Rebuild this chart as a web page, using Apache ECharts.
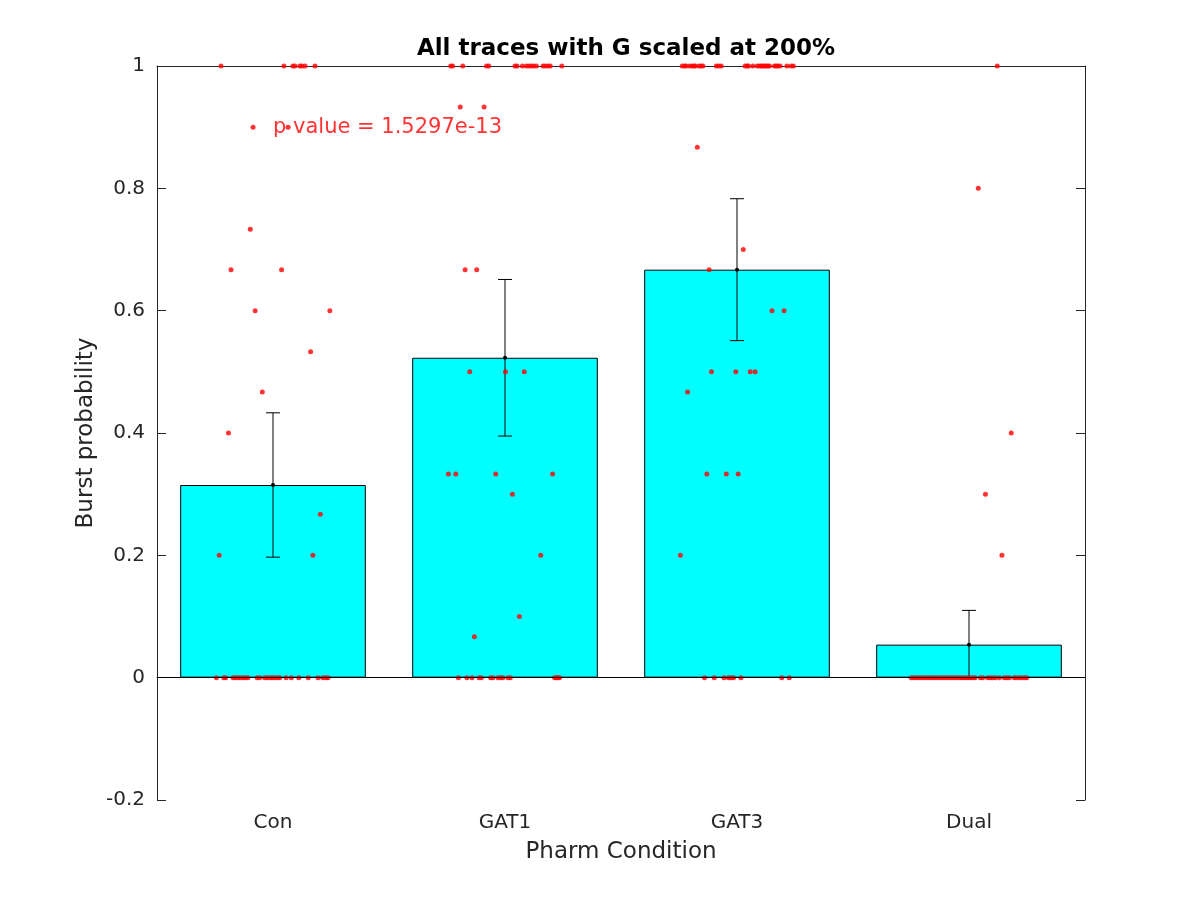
<!DOCTYPE html>
<html>
<head>
<meta charset="utf-8">
<script src="https://cdn.jsdelivr.net/npm/echarts@6/dist/echarts.min.js"></script>
<style>
  html, body { margin: 0; padding: 0; background: #fff; }
  #chart { width: 1200px; height: 900px; }
</style>
</head>
<body>
<div id="chart"></div>
<script>
const categories = ['Con', 'GAT1', 'GAT3', 'Dual'];
const barMeans = [0.315, 0.523, 0.667, 0.054];
const barErrors = [0.118, 0.128, 0.116, 0.056];
const pValueText = 'p value = 1.5297e-13';

// individual traces: [jitter offset from category centre, burst probability]
const conPoints = [
  [-0.224, 1], [0.047, 1], [0.086, 1], [0.095, 1], [0.116, 1], [0.125, 1], [0.138, 1], [0.181, 1],
  [-0.086, 0.9], [0.065, 0.9],
  [-0.098, 0.733], [-0.181, 0.667], [0.037, 0.667], [-0.077, 0.6], [0.245, 0.6],
  [0.162, 0.533], [-0.046, 0.467], [-0.192, 0.4], [0.204, 0.267], [-0.232, 0.2], [0.172, 0.2],
  [-0.244, 0], [-0.212, 0], [-0.204, 0], [-0.172, 0], [-0.162, 0], [-0.151, 0], [-0.141, 0],
  [-0.129, 0], [-0.119, 0], [-0.108, 0], [-0.068, 0], [-0.057, 0], [-0.036, 0], [-0.025, 0],
  [-0.014, 0], [-0.003, 0], [0.007, 0], [0.019, 0], [0.029, 0], [0.057, 0], [0.079, 0],
  [0.111, 0], [0.152, 0], [0.194, 0], [0.215, 0], [0.227, 0], [0.237, 0]
];
const gat1Points = [
  [-0.234, 1], [-0.226, 1], [-0.182, 1], [-0.080, 1], [-0.070, 1], [0.043, 1], [0.052, 1], [0.075, 1],
  [0.092, 1], [0.103, 1], [0.114, 1], [0.123, 1], [0.135, 1], [0.164, 1], [0.174, 1], [0.185, 1],
  [0.195, 1], [0.245, 1],
  [-0.193, 0.933], [-0.090, 0.933],
  [-0.172, 0.667], [-0.122, 0.667], [-0.152, 0.5], [0.002, 0.5], [0.083, 0.5],
  [-0.244, 0.333], [-0.212, 0.333], [-0.040, 0.333], [0.205, 0.333], [0.032, 0.3],
  [0.154, 0.2], [0.062, 0.1], [-0.132, 0.0667],
  [-0.201, 0], [-0.164, 0], [-0.142, 0], [-0.112, 0], [-0.102, 0], [-0.062, 0], [-0.052, 0],
  [-0.030, 0], [-0.019, 0], [-0.009, 0], [0.013, 0], [0.023, 0], [0.214, 0], [0.221, 0],
  [0.228, 0], [0.235, 0]
];
const gat3Points = [
  [-0.236, 1], [-0.226, 1], [-0.219, 1], [-0.204, 1], [-0.194, 1], [-0.185, 1], [-0.180, 1],
  [-0.164, 1], [-0.154, 1], [-0.147, 1], [-0.089, 1], [-0.079, 1], [-0.068, 1], [0.035, 1],
  [0.044, 1], [0.049, 1], [0.068, 1], [0.087, 1], [0.097, 1], [0.104, 1], [0.111, 1], [0.118, 1],
  [0.126, 1], [0.133, 1], [0.140, 1], [0.161, 1], [0.169, 1], [0.176, 1], [0.186, 1], [0.215, 1],
  [0.233, 1], [0.243, 1],
  [-0.171, 0.867], [0.027, 0.7], [-0.120, 0.667], [0.151, 0.6], [0.203, 0.6],
  [-0.110, 0.5], [-0.005, 0.5], [0.057, 0.5], [0.078, 0.5], [-0.213, 0.467],
  [-0.130, 0.333], [-0.046, 0.333], [0.005, 0.333], [-0.244, 0.2],
  [-0.140, 0], [-0.098, 0], [-0.056, 0], [-0.037, 0], [-0.026, 0], [-0.015, 0], [0.017, 0],
  [0.193, 0], [0.225, 0]
];
const dualPoints = [
  [0.122, 1], [0.040, 0.8], [0.182, 0.4], [0.071, 0.3], [0.142, 0.2],
  [-0.249, 0], [-0.238, 0], [-0.227, 0], [-0.216, 0], [-0.205, 0], [-0.194, 0], [-0.183, 0],
  [-0.172, 0], [-0.161, 0], [-0.150, 0], [-0.139, 0], [-0.128, 0], [-0.117, 0], [-0.106, 0],
  [-0.095, 0], [-0.084, 0], [-0.073, 0], [-0.062, 0], [-0.051, 0], [-0.040, 0], [-0.029, 0],
  [-0.018, 0], [-0.007, 0], [0.004, 0], [0.015, 0], [0.026, 0], [0.049, 0], [0.059, 0],
  [0.080, 0], [0.092, 0], [0.102, 0], [0.114, 0], [0.131, 0], [0.152, 0], [0.162, 0],
  [0.174, 0], [0.195, 0], [0.205, 0], [0.217, 0], [0.227, 0], [0.239, 0], [0.249, 0]
];

const groups = [conPoints, gat1Points, gat3Points, dualPoints];
const scatterData = [];
groups.forEach((pts, i) => {
  pts.forEach(p => scatterData.push([i + 1 + p[0], p[1]]));
});

const axisColor = '#262626';
const font = 'DejaVu Sans';

const chart = echarts.init(document.getElementById('chart'), null, { renderer: 'canvas' });

chart.setOption({
  animation: false,
  backgroundColor: '#fff',
  title: {
    text: 'All traces with G scaled at 200%',
    left: 621, top: 33, textAlign: 'center',
    textStyle: { fontFamily: font, fontSize: 23, fontWeight: 'bold', color: '#000' }
  },
  grid: { left: 157, right: 115, top: 66, bottom: 100 },
  xAxis: [
    {
      type: 'category', data: categories, position: 'bottom',
      name: 'Pharm Condition', nameLocation: 'middle', nameGap: 41,
      nameTextStyle: { fontFamily: font, fontSize: 23, color: axisColor },
      axisLine: { lineStyle: { color: axisColor, width: 1 } },
      axisTick: { inside: true, alignWithLabel: true, length: 9, lineStyle: { color: axisColor } },
      axisLabel: { fontFamily: font, fontSize: 20, color: axisColor, margin: 13 },
      splitLine: { show: false }
    },
    {
      type: 'value', min: 0.5, max: 4.5, show: false
    },
    {
      type: 'category', data: categories, position: 'top',
      axisLine: { lineStyle: { color: axisColor, width: 1 } },
      axisTick: { inside: true, alignWithLabel: true, length: 9, lineStyle: { color: axisColor } },
      axisLabel: { show: false }
    }
  ],
  yAxis: [
    {
      type: 'value', min: -0.2, max: 1, interval: 0.2, position: 'left',
      name: 'Burst probability', nameLocation: 'middle', nameGap: 59, nameMoveOverlap: false,
      nameTextStyle: { fontFamily: font, fontSize: 23, color: axisColor },
      axisLine: { show: true, lineStyle: { color: axisColor, width: 1 } },
      axisTick: { show: true, inside: true, length: 9, lineStyle: { color: axisColor } },
      axisLabel: {
        fontFamily: font, fontSize: 20, color: axisColor, margin: 12,
        formatter: v => String(Math.round(v * 10) / 10)
      },
      splitLine: { show: false }
    },
    {
      type: 'value', min: -0.2, max: 1, interval: 0.2, position: 'right',
      axisLine: { show: true, lineStyle: { color: axisColor, width: 1 } },
      axisTick: { show: true, inside: true, length: 9, lineStyle: { color: axisColor } },
      axisLabel: { show: false },
      splitLine: { show: false }
    }
  ],
  series: [
    {
      type: 'bar', xAxisIndex: 0, yAxisIndex: 0,
      data: barMeans, barWidth: '80%',
      itemStyle: { color: '#00ffff', borderColor: '#000', borderWidth: 1 },
      markLine: {
        silent: true, symbol: 'none', label: { show: false },
        lineStyle: { color: '#000', width: 1, type: 'solid' },
        data: [{ yAxis: 0 }]
      },
      z: 1
    },
    {
      type: 'custom', xAxisIndex: 1, yAxisIndex: 0,
      data: barMeans.map((m, i) => [i + 1, m, barErrors[i]]),
      renderItem: (params, api) => {
        const x = api.value(0), m = api.value(1), e = api.value(2);
        const top = api.coord([x, m + e]);
        const bot = api.coord([x, m - e]);
        const mid = api.coord([x, m]);
        const cap = 7;
        const style = { stroke: '#000', lineWidth: 1 };
        return {
          type: 'group',
          children: [
            { type: 'line', shape: { x1: top[0], y1: top[1], x2: bot[0], y2: bot[1] }, style },
            { type: 'line', shape: { x1: top[0] - cap, y1: top[1], x2: top[0] + cap, y2: top[1] }, style },
            { type: 'line', shape: { x1: bot[0] - cap, y1: bot[1], x2: bot[0] + cap, y2: bot[1] }, style },
            { type: 'circle', shape: { cx: mid[0], cy: mid[1], r: 2 }, style: { fill: '#000' } }
          ]
        };
      },
      z: 3
    },
    {
      type: 'scatter', xAxisIndex: 1, yAxisIndex: 0,
      data: scatterData, symbol: 'circle', symbolSize: 5,
      itemStyle: { color: '#ff0000' },
      z: 4
    },
    {
      type: 'scatter', xAxisIndex: 1, yAxisIndex: 0,
      data: [[1, 0.9]], symbolSize: 0,
      label: {
        show: true, position: 'right', distance: 0, formatter: pValueText,
        fontFamily: font, fontSize: 21, color: '#ff0000'
      },
      z: 5
    }
  ]
});
</script>
</body>
</html>
